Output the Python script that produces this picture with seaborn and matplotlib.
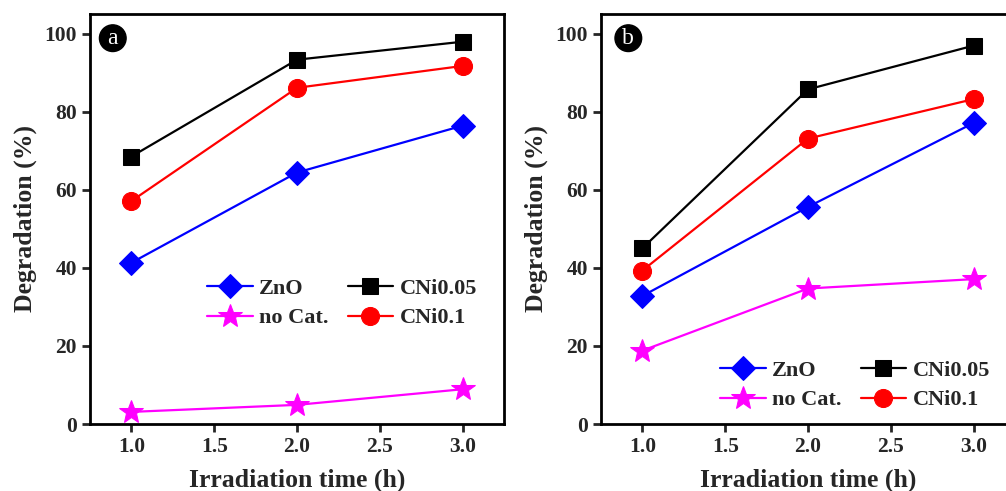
import matplotlib
matplotlib.use("Agg")
import matplotlib.pyplot as plt
import seaborn as sns
import pandas as pd

sns.set_theme(style="ticks")
plt.rcParams['font.family'] = ['Liberation Serif', 'DejaVu Serif']
plt.rcParams['font.weight'] = 'bold'

time_h = [1.0, 2.0, 3.0]
series_names = ["ZnO", "no Cat.", "CNi0.05", "CNi0.1"]

a_zno = [41.3, 64.4, 76.4]
a_nocat = [3.1, 4.9, 8.9]
a_cni005 = [68.5, 93.3, 97.9]
a_cni01 = [57.1, 86.1, 91.7]

b_zno = [32.8, 55.6, 77.1]
b_nocat = [18.8, 34.7, 37.1]
b_cni005 = [45.0, 85.7, 96.9]
b_cni01 = [39.3, 73.1, 83.2]

x_ticks = [1.0, 1.5, 2.0, 2.5, 3.0]
y_ticks = [0, 20, 40, 60, 80, 100]
panel_labels = ["a", "b"]

colors = {"ZnO": "#0000ff", "no Cat.": "#ff00ff", "CNi0.05": "#000000", "CNi0.1": "#ff0000"}
markers = {"ZnO": "D", "no Cat.": "*", "CNi0.05": "s", "CNi0.1": "o"}
msizes = {"ZnO": 12, "no Cat.": 18, "CNi0.05": 12, "CNi0.1": 13}

def make_df(vals):
    rows = []
    for name, v in zip(series_names, vals):
        for t, y in zip(time_h, v):
            rows.append({"time": t, "deg": y, "series": name})
    return pd.DataFrame(rows)

data_a = make_df([a_zno, a_nocat, a_cni005, a_cni01])
data_b = make_df([b_zno, b_nocat, b_cni005, b_cni01])

fig = plt.figure(figsize=(10.06, 4.91), dpi=100)
W, H = 1006, 491
ax_a = fig.add_axes([90 / W, (H - 424) / H, 414 / W, 410 / H])
ax_b = fig.add_axes([601 / W, (H - 424) / H, 414 / W, 410 / H])

def draw(ax, df, label, circ_x, legend_anchor):
    for name in series_names:
        sub = df[df.series == name]
        sns.lineplot(data=sub, x="time", y="deg", ax=ax, color=colors[name],
                     marker=markers[name], markersize=msizes[name],
                     markeredgecolor=colors[name], linewidth=1.6, label=name,
                     zorder=3)
    ax.set_xlim(0.75, 3.25)
    ax.set_ylim(0, 105)
    ax.set_xticks(x_ticks)
    ax.set_xticklabels([f"{v:.1f}" for v in x_ticks])
    ax.set_yticks(y_ticks)
    ax.set_xlabel("Irradiation time (h)", fontsize=18.5, fontweight="bold", labelpad=8)
    ax.set_ylabel("Degradation (%)", fontsize=18.5, fontweight="bold", labelpad=5)
    ax.tick_params(axis="both", direction="out", length=6, width=2, labelsize=15.5)
    for lab in ax.get_xticklabels() + ax.get_yticklabels():
        lab.set_fontweight("bold")
    for sp in ax.spines.values():
        sp.set_linewidth(2)
        sp.set_color("black")
    ax.text(circ_x, 0.941, label, transform=ax.transAxes, ha="center", va="center",
            color="white", fontsize=17, fontweight="normal",
            bbox=dict(boxstyle="circle,pad=0.12", fc="black", ec="black"))
    handles, labels = ax.get_legend_handles_labels()
    ax.legend(handles, labels, ncol=2,
              loc="upper left", bbox_to_anchor=legend_anchor, bbox_transform=fig.transFigure,
              frameon=False, handlelength=2.05, columnspacing=0.85,
              handletextpad=0.3, labelspacing=0.42, borderaxespad=0, borderpad=0,
              prop={"weight": "bold", "size": 16})

draw(ax_a, data_a, "a", 0.055, (207 / W, 1 - 278 / H))
draw(ax_b, data_b, "b", 0.066, (720 / W, 1 - 360 / H))

fig.savefig("out.png", dpi=100)
